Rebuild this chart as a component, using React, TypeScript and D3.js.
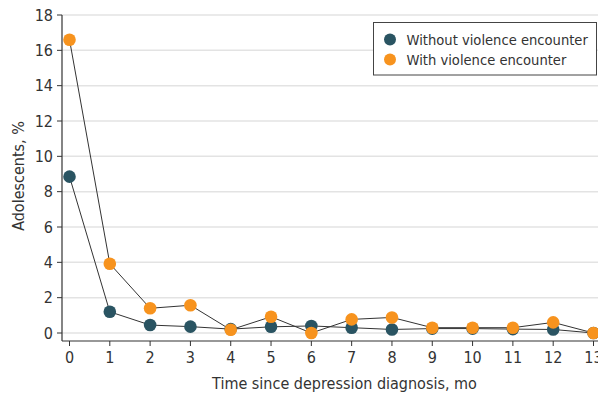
import React from "react";
import * as d3 from "d3";

const months = [0, 1, 2, 3, 4, 5, 6, 7, 8, 9, 10, 11, 12, 13];
const withoutViolence = [8.85, 1.2, 0.45, 0.36, 0.22, 0.35, 0.4, 0.3, 0.2, 0.25, 0.25, 0.22, 0.2, 0.0];
const withViolence = [16.6, 3.92, 1.4, 1.57, 0.18, 0.92, 0.0, 0.77, 0.88, 0.3, 0.3, 0.3, 0.6, 0.0];
const yTicks = [0, 2, 4, 6, 8, 10, 12, 14, 16, 18];
const seriesNames = ["Without violence encounter", "With violence encounter"];
const colors = ["#2a5462", "#f7931e"];

const W = 598;
const H = 395;
const FONT = "'Liberation Sans Narrow', 'DejaVu Sans Condensed', sans-serif";

export default function App() {
  const axisX = 62;
  const axisBottom = 341;
  const x = d3.scaleLinear().domain([0, 13]).range([69.5, 593.5]);
  const y = d3.scaleLinear().domain([0, 18]).range([333, 15]);
  const line = d3
    .line<number>()
    .x((_, i) => x(months[i]))
    .y((d) => y(d));
  const series = [withoutViolence, withViolence];

  return (
    <svg
      width={W}
      height={H}
      style={{ position: "absolute", left: 0, top: 0, background: "#fff" }}
      fontFamily={FONT}
    >
      {yTicks.map((t) => (
        <g key={t}>
          <line x1={axisX} x2={W} y1={y(t)} y2={y(t)} stroke="#e3e3e3" strokeWidth={1.5} />
          <line x1={axisX - 5} x2={axisX} y1={y(t)} y2={y(t)} stroke="#333" strokeWidth={1} />
          <text x={axisX - 9} y={y(t)} dy="0.35em" textAnchor="end" fontSize={16} fill="#333">
            {t}
          </text>
        </g>
      ))}
      <line x1={axisX} x2={axisX} y1={y(18)} y2={axisBottom} stroke="#333" strokeWidth={1.2} />
      <line x1={axisX} x2={W} y1={axisBottom} y2={axisBottom} stroke="#333" strokeWidth={1.2} />
      {months.map((m) => (
        <g key={m}>
          <line x1={x(m)} x2={x(m)} y1={axisBottom} y2={axisBottom + 5} stroke="#333" strokeWidth={1} />
          <text x={x(m)} y={357.5} dy="0.35em" textAnchor="middle" fontSize={16} fill="#333">
            {m}
          </text>
        </g>
      ))}
      <text x={344.5} y={383} dy="0.35em" textAnchor="middle" fontSize={16} fill="#333">
        Time since depression diagnosis, mo
      </text>
      <text
        transform={`translate(18,176) rotate(-90)`}
        dy="0.35em"
        textAnchor="middle"
        fontSize={16}
        fill="#333"
      >
        Adolescents, %
      </text>
      {series.map((s, i) => (
        <path key={i} d={line(s) || ""} fill="none" stroke="#333" strokeWidth={1} />
      ))}
      {series.map((s, i) => (
        <g key={i}>
          {s.map((v, j) => (
            <circle key={j} cx={x(months[j])} cy={y(v)} r={6.3} fill={colors[i]} />
          ))}
        </g>
      ))}
      <rect x={373.5} y={22.5} width={223} height={52.5} fill="#fff" stroke="#444" strokeWidth={1} />
      {seriesNames.map((n, i) => (
        <g key={n}>
          <circle cx={390} cy={39.5 + i * 20} r={6} fill={colors[i]} />
          <text x={406.5} y={39.5 + i * 20} dy="0.35em" fontSize={14.6} fill="#333">
            {n}
          </text>
        </g>
      ))}
    </svg>
  );
}
